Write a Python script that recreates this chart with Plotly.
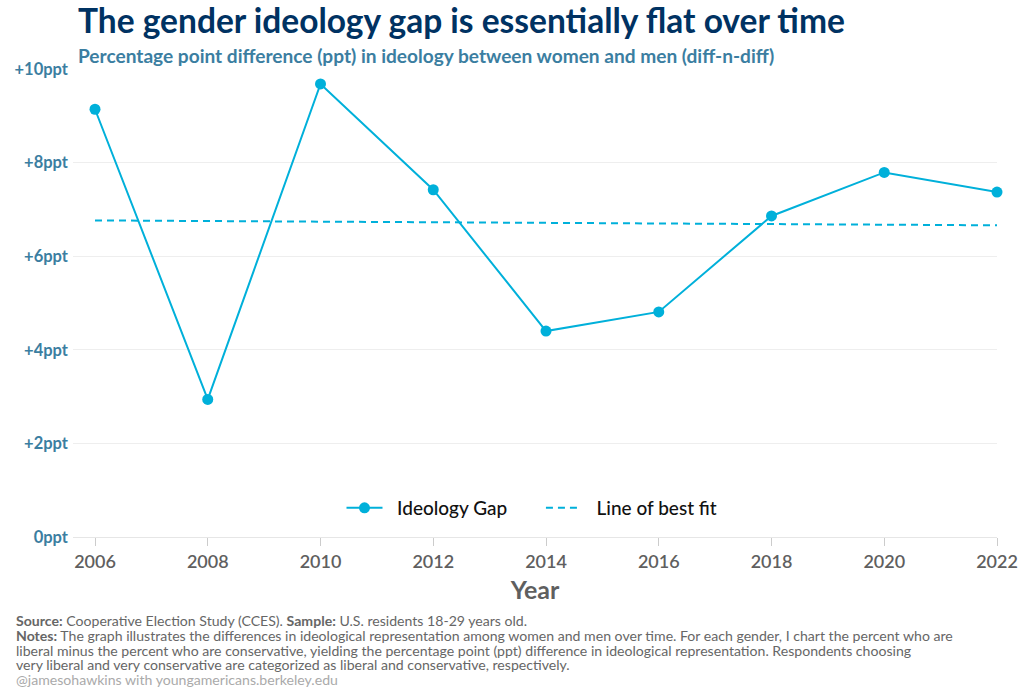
import numpy as np
import plotly.graph_objects as go

years = [2006, 2008, 2010, 2012, 2014, 2016, 2018, 2020, 2022]
gap = [9.14, 2.94, 9.68, 7.42, 4.40, 4.81, 6.86, 7.79, 7.37]
y_ticks = [0, 2, 4, 6, 8, 10]
y_tick_labels = ["0ppt", "+2ppt", "+4ppt", "+6ppt", "+8ppt", "+10ppt"]

slope, intercept = np.polyfit(years, gap, 1)
fit = [slope * x + intercept for x in years]

CYAN = "#00B0DA"
FONT = "Lato"
NB = "\u00a0"

W, H = 1024, 692
L, R, T, B = 73, 27, 69, 155
PW, PH = W - L - R, H - T - B


def px(x):
    return (x - L) / PW


def py(y):
    return (H - B - y) / PH


fig = go.Figure()
fig.add_trace(go.Scatter(
    x=years, y=gap, mode="lines+markers", name=NB * 2 + "Ideology Gap" + NB * 6,
    line=dict(color=CYAN, width=2), marker=dict(color=CYAN, size=11),
    cliponaxis=False,
))
fig.add_trace(go.Scatter(
    x=years, y=fit, mode="lines", name=NB * 2 + "Line of best fit",
    line=dict(color=CYAN, width=2, dash="7px,5px"),
    cliponaxis=False,
))

annotations = [
    dict(text="<b>The gender ideology gap is essentially flat over time</b>",
         x=px(76), y=py(20), xanchor="left", yanchor="middle",
         font=dict(family=FONT, size=33.5, color="#003262")),
    dict(text="<b>Percentage point difference (ppt) in ideology between women and men (diff-n-diff)</b>",
         x=px(76), y=py(55), xanchor="left", yanchor="middle",
         font=dict(family=FONT, size=19.1, color="#3B7EA1")),
]
footer = [
    ("<b>Source:</b> Cooperative Election Study (CCES). <b>Sample:</b> U.S. residents 18-29 years old.", 620, "#666666"),
    ("<b>Notes:</b> The graph illustrates the differences in ideological representation among women and men over time. For each gender, I chart the percent who are", 635, "#666666"),
    ("liberal minus the percent who are conservative, yielding the percentage point (ppt) difference in ideological representation. Respondents choosing", 650, "#666666"),
    ("very liberal and very conservative are categorized as liberal and conservative, respectively.", 664, "#666666"),
    ("@jamesohawkins with youngamericans.berkeley.edu", 679, "#AAAAAA"),
]
for txt, yy, col in footer:
    annotations.append(dict(text=txt, x=px(14), y=py(yy), xanchor="left", yanchor="middle",
                            font=dict(family=FONT, size=14.1, color=col)))

for a in annotations:
    a.update(xref="paper", yref="paper", showarrow=False)

fig.update_layout(
    width=W, height=H,
    margin=dict(l=L, r=R, t=T, b=B),
    paper_bgcolor="white", plot_bgcolor="white",
    font=dict(family=FONT),
    showlegend=True,
    legend=dict(orientation="h", x=px(532), y=py(508), xanchor="center", yanchor="middle",
                font=dict(family=FONT, size=19, color="#111111", weight=500),
                bgcolor="rgba(0,0,0,0)", itemwidth=36, tracegroupgap=0),
    annotations=annotations,
    xaxis=dict(
        range=[2006 - 22 / (902 / 16), 2022], tickmode="array", tickvals=years,
        showgrid=False, zeroline=False, showline=False, automargin=False,
        ticks="outside", ticklen=8, tickcolor="#CCCCCC", tickwidth=1,
        tickfont=dict(family=FONT, size=18, color="#5F5F5F", weight=600),
        title=dict(text="<b>Year</b>", font=dict(family=FONT, size=25, color="#5F5F5F"), standoff=10),
    ),
    yaxis=dict(
        range=[0, 10], tickmode="array", tickvals=y_ticks, ticktext=y_tick_labels,
        showgrid=True, gridcolor="#EEEEEE", gridwidth=1, automargin=False,
        zeroline=True, zerolinecolor="#E6E6E6", zerolinewidth=1, showline=False,
        ticks="", ticklabelstandoff=4,
        tickfont=dict(family=FONT, size=16.5, color="#3B7EA1", weight="bold"),
    ),
)

fig.write_html("out.html", config={"displayModeBar": False})
with open("out.html", "r", encoding="utf-8") as f:
    html = f.read()
html = html.replace("<head>", "<head><style>html,body{margin:0;padding:0;overflow:hidden;}</style>", 1)
with open("out.html", "w", encoding="utf-8") as f:
    f.write(html)
